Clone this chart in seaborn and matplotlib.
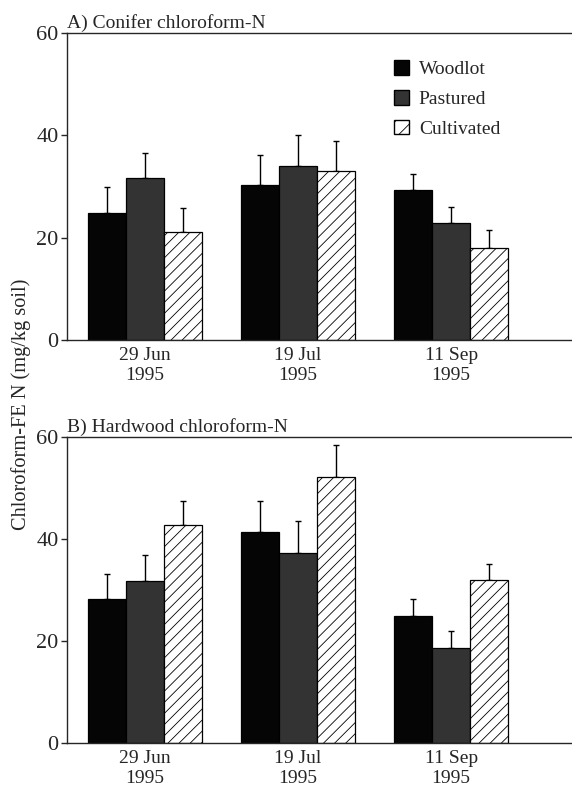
import numpy as np
import pandas as pd
import matplotlib
matplotlib.use("Agg")
import matplotlib.pyplot as plt
from matplotlib.patches import Patch
import seaborn as sns

dates = ["29 Jun\n1995", "19 Jul\n1995", "11 Sep\n1995"]
systems = ["Woodlot", "Pastured", "Cultivated"]

# panel A: conifer, rows = system, cols = date
conifer_mean = [[24.9, 30.3, 29.4],
                [31.6, 34.1, 22.8],
                [21.2, 33.0, 17.9]]
conifer_se = [[5.0, 5.9, 3.1],
              [4.9, 6.0, 3.2],
              [4.7, 6.0, 3.6]]

# panel B: hardwood
hardwood_mean = [[28.2, 41.4, 25.0],
                 [31.8, 37.2, 18.7],
                 [42.7, 52.2, 32.0]]
hardwood_se = [[4.9, 6.1, 3.2],
               [5.1, 6.3, 3.2],
               [4.7, 6.2, 3.1]]

sns.set_style("ticks")
plt.rcParams['font.family'] = ['Liberation Serif', 'DejaVu Serif']
plt.rcParams['hatch.linewidth'] = 0.6
plt.rcParams['axes.linewidth'] = 1.0

colors = ["#050505", "#333333", "white"]

fig = plt.figure(figsize=(5.72, 7.89), dpi=100)
axA = fig.add_axes([0.117, 0.569, 0.883, 0.389])
axB = fig.add_axes([0.117, 0.058, 0.883, 0.388])


def panel(ax, means, ses, title, legend=False):
    rows = []
    for i, s in enumerate(systems):
        for j, d in enumerate(dates):
            rows.append({"date": d, "system": s, "value": means[i][j]})
    df = pd.DataFrame(rows)
    sns.barplot(data=df, x="date", y="value", hue="system", order=dates,
                hue_order=systems, palette=colors, errorbar=None,
                width=0.75, edgecolor="black", linewidth=0.9, ax=ax,
                legend=False)
    bars = list(ax.containers)
    for i, cont in enumerate(bars):
        xs = [p.get_x() + p.get_width() / 2 for p in cont.patches]
        hs = [p.get_height() for p in cont.patches]
        ax.errorbar(xs, hs, yerr=[np.zeros(3), ses[i]], fmt="none",
                    ecolor="black", elinewidth=1.0, capsize=2.5,
                    capthick=1.0, zorder=0)
        if systems[i] == "Cultivated":
            for p in cont.patches:
                p.set_facecolor("white")
                p.set_hatch("///")
    ax.set_ylim(0, 60)
    ax.set_xlim(-0.51, 2.79)
    ax.set_yticks([0, 20, 40, 60])
    ax.tick_params(axis="y", labelsize=16, length=4, width=1, pad=2)
    ax.tick_params(axis="x", labelsize=14, length=0, pad=5)
    ax.set_xlabel("")
    ax.set_ylabel("")
    ax.spines["right"].set_visible(False)
    ax.set_title(title, loc="left", fontsize=14, pad=4, x=0.0)
    if legend:
        handles = [Patch(facecolor=colors[0], edgecolor="black"),
                   Patch(facecolor=colors[1], edgecolor="black"),
                   Patch(facecolor="white", edgecolor="black", hatch="//")]
        ax.legend(handles, systems, loc="upper left", frameon=False,
                  fontsize=14, handlelength=0.8, handleheight=0.8,
                  handletextpad=0.5, labelspacing=0.6,
                  bbox_to_anchor=(0.612, 0.97))


panel(axA, conifer_mean, conifer_se, "A) Conifer chloroform-N", legend=True)
panel(axB, hardwood_mean, hardwood_se, "B) Hardwood chloroform-N")

fig.text(0.036, 0.487, "Chloroform-FE N (mg/kg soil)", rotation=90,
         ha="center", va="center", fontsize=14.7)

fig.savefig("out.png", dpi=100)
